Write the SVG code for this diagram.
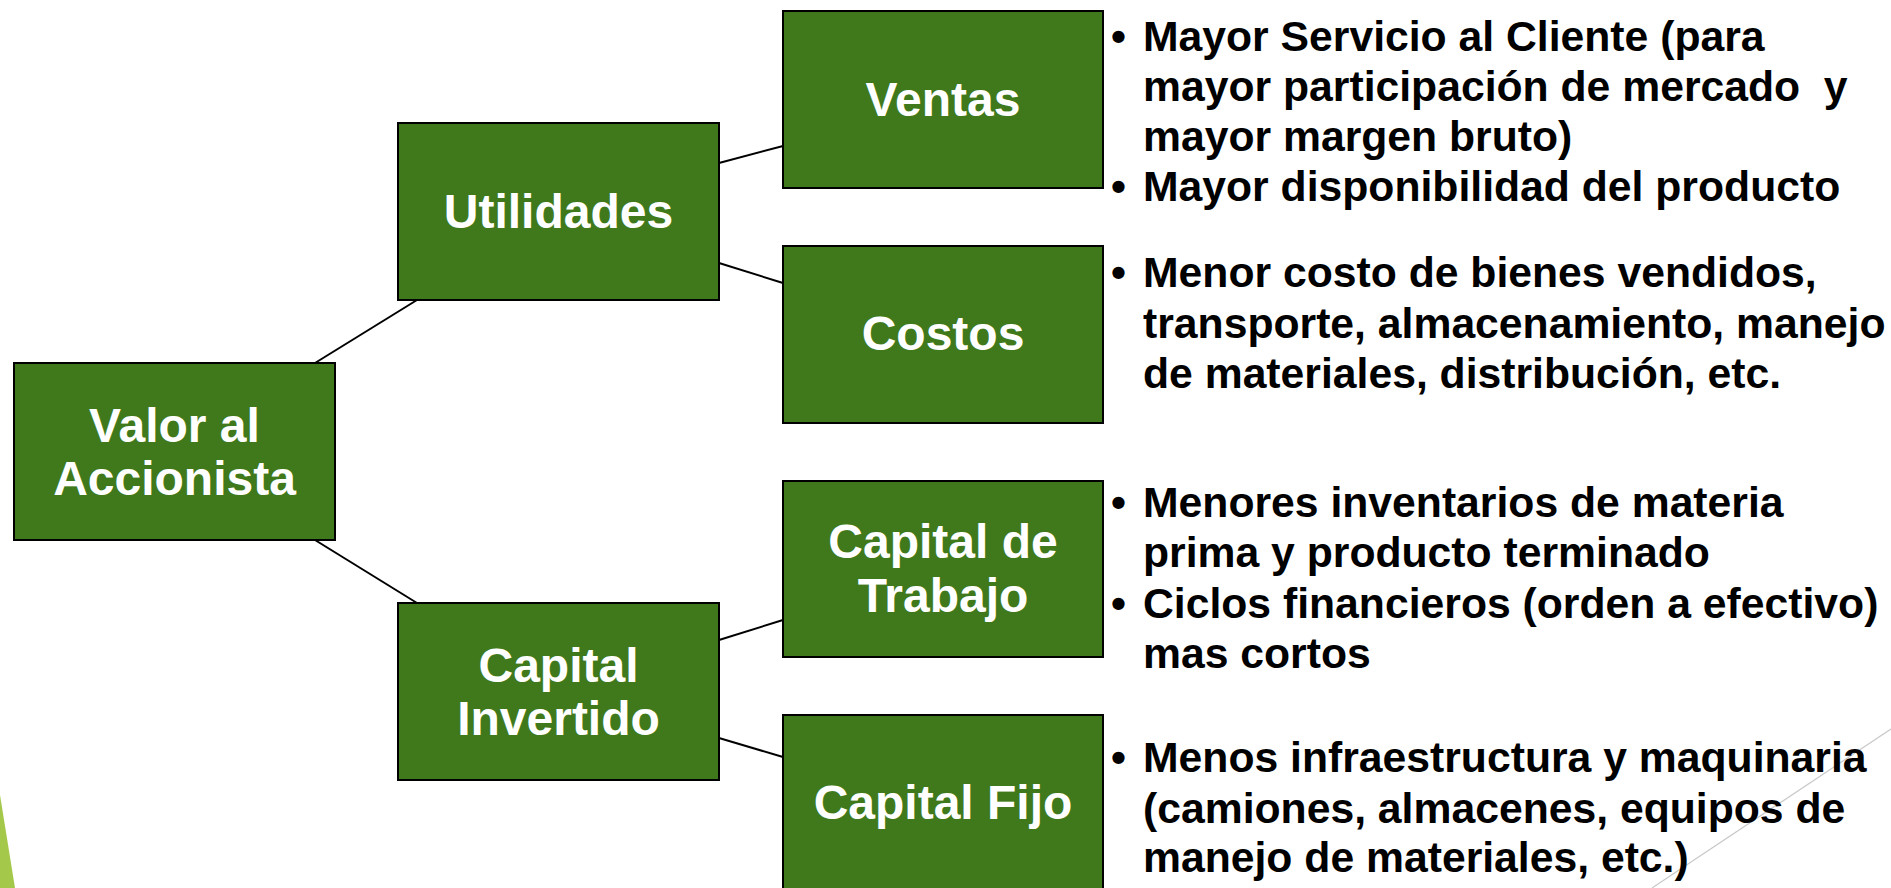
<svg xmlns="http://www.w3.org/2000/svg" width="1891" height="888" viewBox="0 0 1891 888">
  <style>
    .box { fill: #40791c; stroke: #000000; stroke-width: 2; }
    .lbl { font-family: "Liberation Sans", Arial, sans-serif; font-weight: bold; font-size: 48px; fill: #ffffff; text-anchor: middle; }
    .bul { font-family: "Liberation Sans", Arial, sans-serif; font-weight: bold; font-size: 42.7px; fill: #000000; }
    .conn line { stroke: #000000; stroke-width: 2; }
  </style>
  <rect x="0" y="0" width="1891" height="888" fill="#ffffff"/>
  <polygon points="0,795 15,888 0,888" fill="#a4c94a"/>
  <line x1="1891" y1="729" x2="1652" y2="888" stroke="#c8c8c8" stroke-width="1.2"/>

  <g id="connectors" class="conn">
    <line x1="315" y1="363" x2="417" y2="300"/>
    <line x1="315" y1="540" x2="417" y2="603"/>
    <line x1="719" y1="163" x2="783" y2="146"/>
    <line x1="719" y1="263" x2="783" y2="283"/>
    <line x1="719" y1="640" x2="783" y2="620"/>
    <line x1="719" y1="738" x2="783" y2="757"/>
  </g>

  <g id="valor">
    <rect class="box" x="14" y="363" width="321" height="177"/>
    <text class="lbl" x="174.5" y="442">Valor al</text>
    <text class="lbl" x="174.5" y="495">Accionista</text>
  </g>
  <g id="utilidades">
    <rect class="box" x="398" y="123" width="321" height="177"/>
    <text class="lbl" x="558.5" y="228">Utilidades</text>
  </g>
  <g id="capital-invertido">
    <rect class="box" x="398" y="603" width="321" height="177"/>
    <text class="lbl" x="558.5" y="682">Capital</text>
    <text class="lbl" x="558.5" y="735">Invertido</text>
  </g>
  <g id="ventas">
    <rect class="box" x="783" y="11" width="320" height="177"/>
    <text class="lbl" x="943" y="116">Ventas</text>
  </g>
  <g id="costos">
    <rect class="box" x="783" y="246" width="320" height="177"/>
    <text class="lbl" x="943" y="350">Costos</text>
  </g>
  <g id="capital-trabajo">
    <rect class="box" x="783" y="481" width="320" height="176"/>
    <text class="lbl" x="943" y="558">Capital de</text>
    <text class="lbl" x="943" y="612">Trabajo</text>
  </g>
  <g id="capital-fijo">
    <rect class="box" x="783" y="715" width="320" height="177"/>
    <text class="lbl" x="943" y="819">Capital Fijo</text>
  </g>

  <g id="ventas-notes" class="bul">
    <text x="1111" y="51">•</text>
    <text x="1143" y="51">Mayor Servicio al Cliente (para</text>
    <text x="1143" y="101" xml:space="preserve">mayor participación de mercado  y</text>
    <text x="1143" y="151">mayor margen bruto)</text>
    <text x="1111" y="201">•</text>
    <text x="1143" y="201">Mayor disponibilidad del producto</text>
  </g>
  <g id="costos-notes" class="bul">
    <text x="1111" y="287">•</text>
    <text x="1143" y="287">Menor costo de bienes vendidos,</text>
    <text x="1143" y="338">transporte, almacenamiento, manejo</text>
    <text x="1143" y="388">de materiales, distribución, etc.</text>
  </g>
  <g id="trabajo-notes" class="bul">
    <text x="1111" y="517">•</text>
    <text x="1143" y="517">Menores inventarios de materia</text>
    <text x="1143" y="567">prima y producto terminado</text>
    <text x="1111" y="618">•</text>
    <text x="1143" y="618">Ciclos financieros (orden a efectivo)</text>
    <text x="1143" y="668">mas cortos</text>
  </g>
  <g id="fijo-notes" class="bul">
    <text x="1111" y="772">•</text>
    <text x="1143" y="772">Menos infraestructura y maquinaria</text>
    <text x="1143" y="823">(camiones, almacenes, equipos de</text>
    <text x="1143" y="872">manejo de materiales, etc.)</text>
  </g>
</svg>
